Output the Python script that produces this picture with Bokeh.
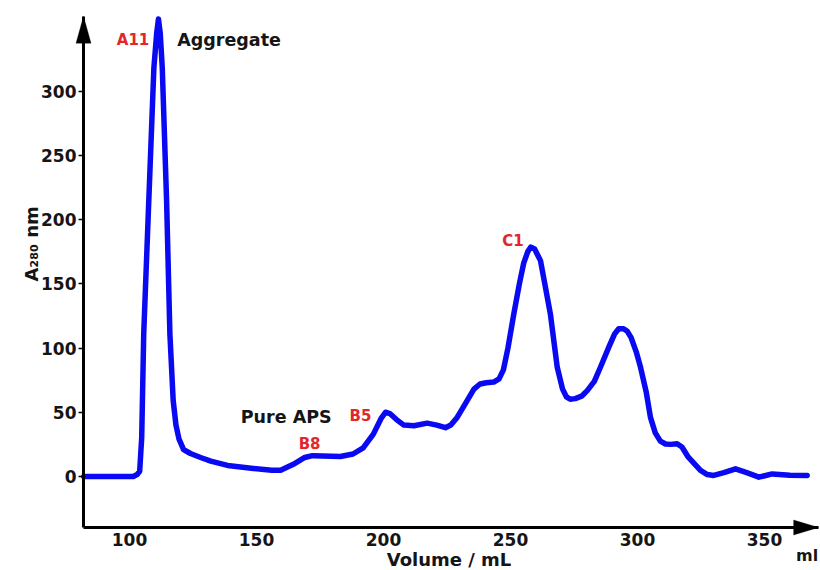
from bokeh.plotting import figure
from bokeh.models import Label, PolyAnnotation, FixedTicker, Range1d
from bokeh.embed import file_html
from bokeh.resources import INLINE

# ---- data ----
volume = [82, 101.5, 103.0, 104.0, 104.8, 105.6, 107.6, 109.6, 110.7, 111.4, 112.1,
          112.9, 114.6, 115.9, 117.2, 118.3, 119.5, 121.3, 124, 128,
          132, 138.6, 148.8, 156, 159.5, 164.5, 169, 172, 176, 183,
          188, 192, 196, 199, 200.8, 202.5, 205, 208, 212, 217.2,
          221, 224.4, 226.5, 229, 232, 235.6, 238, 240.5, 243.4, 245.5,
          247.2, 249, 251.3, 253.5, 255.2, 256.8, 258, 259.5, 261.8, 263.5,
          265.7, 268.4, 270.5, 272, 273.5, 275.5, 278, 280.2, 283, 285.4,
          289, 291, 292.6, 294.5, 296, 297.5, 299.5, 301.2, 303.5, 305.1,
          307, 309, 311, 313, 315.6, 317.5, 320, 324.8, 327.5, 330,
          334, 338.6, 343, 347.8, 350.5, 353, 360, 366.8]
absorbance = [0, 0, 1.5, 4, 30, 111, 215, 318, 345, 356, 345,
              318, 215, 111, 59, 40, 29, 21, 17.9, 14.8,
              12, 8.6, 6.3, 4.9, 4.8, 9.5, 14.8, 16.2, 16, 15.6,
              17.5, 22.3, 33, 45, 50, 49, 44.5, 40, 39.5, 41.5,
              40, 38, 40, 46, 56, 68, 72, 73, 73.5, 76,
              83, 100, 126.5, 150, 166, 175, 178.5, 177, 168, 150,
              126.5, 85, 68, 62, 60.2, 60.6, 62.5, 66.8, 74, 85,
              102, 111, 115, 115, 113, 108, 97, 85, 65, 46,
              34, 27.5, 25.3, 25, 25.5, 23, 15, 4.7, 1.5, 0.8,
              3, 6, 3, -0.5, 0.8, 2, 1, 0.8]

x_ticks = [100, 150, 200, 250, 300, 350]
y_ticks = [0, 50, 100, 150, 200, 250, 300]

fraction_labels = ["A11", "B8", "B5", "C1"]
fraction_x = [101.4, 170.9, 190.9, 251.0]
fraction_y = [340.0, 25.4, 46.9, 183.1]

note_labels = ["Aggregate", "Pure APS"]
note_x = [139.2, 161.7]
note_y = [339.5, 46.2]

x_label = "Volume / mL"
y_label = "A\u2082\u2088\u2080 nm"
unit_label = "ml"

# ---- layout ----
W, H = 820, 570
PX_X = 2.54    # px per mL
PX_Y = 1.285   # px per absorbance unit
XS = 100 - 129 / PX_X
XE = XS + W / PX_X
YE = 476 / PX_Y
YS = YE - H / PX_Y
AX_X0, AX_X1 = 81.9, 371.3     # extent of the volume axis
AX_Y0, AX_Y1 = -39.7, 358.2    # extent of the absorbance axis

FONT = "DejaVu Sans"
RED = "#e3262b"
BLUE = "#0a0af2"
INK = "#151515"

p = figure(width=W, height=H, output_backend="svg", toolbar_location=None,
           x_range=Range1d(XS, XE), y_range=Range1d(YS, YE),
           min_border=0, min_border_left=0, min_border_right=0,
           min_border_top=0, min_border_bottom=0)
p.outline_line_color = None
p.grid.visible = False
p.background_fill_color = "white"

p.line(volume, absorbance, line_color=BLUE, line_width=5.5,
       line_join="round", line_cap="round")

for ax in (p.xaxis, p.yaxis):
    ax.axis_line_color = "black"
    ax.axis_line_width = 3
    ax.major_label_text_font = FONT
    ax.major_label_text_font_style = "bold"
    ax.major_label_text_font_size = "17px"
    ax.major_label_text_color = INK
    ax.minor_tick_line_color = None

p.xaxis.fixed_location = AX_Y0
p.yaxis.fixed_location = AX_X0
p.xaxis.bounds = (AX_X0, AX_X1)
p.yaxis.bounds = (AX_Y0, AX_Y1)
p.xaxis.ticker = FixedTicker(ticks=x_ticks)
p.yaxis.ticker = FixedTicker(ticks=y_ticks)
p.xaxis.major_tick_out = 0
p.xaxis.major_tick_in = 0
p.xaxis.major_label_standoff = 5
p.yaxis.major_tick_out = 5
p.yaxis.major_tick_in = 0
p.yaxis.major_tick_line_width = 1.5
p.yaxis.major_label_standoff = 2

# arrow heads on the axes
hx = 25 / PX_X
hw_x = 7.5 / PX_Y
p.add_layout(PolyAnnotation(xs=[AX_X1, AX_X1 - hx, AX_X1 - hx],
                            ys=[AX_Y0, AX_Y0 + hw_x, AX_Y0 - hw_x],
                            fill_color="black", fill_alpha=1, line_color="black",
                            line_width=1))
hy = 27 / PX_Y
hw_y = 7.5 / PX_X
p.add_layout(PolyAnnotation(xs=[AX_X0, AX_X0 - hw_y, AX_X0 + hw_y],
                            ys=[AX_Y1, AX_Y1 - hy, AX_Y1 - hy],
                            fill_color="black", fill_alpha=1, line_color="black",
                            line_width=1))

for t, x, y in zip(fraction_labels, fraction_x, fraction_y):
    p.add_layout(Label(x=x, y=y, text=t, text_font=FONT, text_font_style="bold",
                       text_font_size="15px", text_color=RED, text_align="center",
                       text_baseline="alphabetic"))
for t, x, y in zip(note_labels, note_x, note_y):
    p.add_layout(Label(x=x, y=y, text=t, text_font=FONT, text_font_style="bold",
                       text_font_size="17.5px", text_color=INK, text_align="center",
                       text_baseline="alphabetic"))

p.add_layout(Label(x=225.8, y=-64.5, text=x_label, text_font=FONT, text_font_style="bold",
                   text_font_size="18px", text_color=INK, text_align="center",
                   text_baseline="alphabetic"))
p.add_layout(Label(x=366.8, y=-61.5, text=unit_label, text_font=FONT, text_font_style="bold",
                   text_font_size="16px", text_color=INK, text_align="center",
                   text_baseline="alphabetic"))
p.add_layout(Label(x=61.5, y=181, text=y_label, text_font=FONT, text_font_style="bold",
                   text_font_size="18px", text_color=INK, text_align="center",
                   text_baseline="alphabetic", angle=1.5707963))

open("out.html", "w").write(file_html(p, INLINE))
